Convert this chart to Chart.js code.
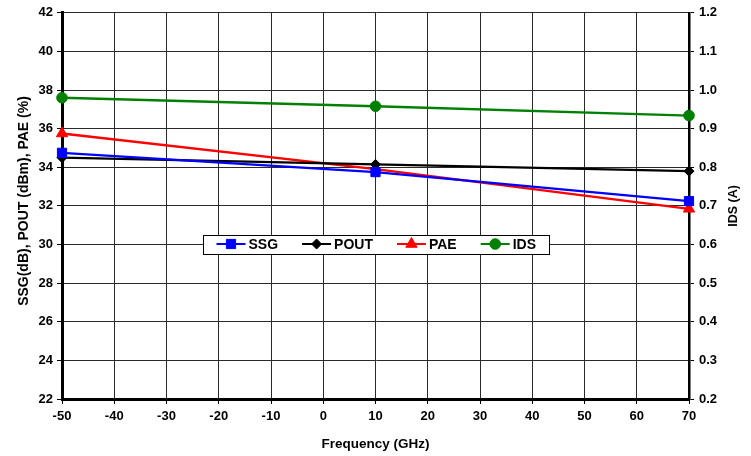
<!DOCTYPE html>
<html>
<head>
<meta charset="utf-8">
<script src="https://cdn.jsdelivr.net/npm/chart.js@4/dist/chart.umd.min.js"></script>
<style>
  html, body { margin: 0; padding: 0; background: #fff; }
  #wrap { width: 751px; height: 456px; }
</style>
</head>
<body>
<div id="wrap"><canvas id="grafico" width="751" height="456"></canvas></div>
<script>
const frequencias = [-50, 10, 70];
const ssg = [34.75, 33.75, 32.25];
const pout = [34.5, 34.15, 33.8];
const pae = [35.75, 33.9, 31.85];
const ids = [0.98, 0.958, 0.934];

const tituloEsq = 'SSG(dB), POUT (dBm), PAE (%)';
const tituloDir = 'IDS (A)';
const tituloX = 'Frequency (GHz)';

const fonte = 'Liberation Sans, Arial, sans-serif';

function pontos(valores) {
    return frequencias.map((f, i) => ({ x: f, y: valores[i] }));
}

function serie(label, valores, cor, estilo, raio, eixo) {
    return {
        label: label,
        data: pontos(valores),
        borderColor: cor,
        backgroundColor: cor,
        borderWidth: 2.3,
        pointStyle: estilo,
        pointRadius: raio,
        pointHoverRadius: raio,
        pointBorderWidth: 1,
        yAxisID: eixo,
        clip: false,
        tension: 0
    };
}

// títulos verticais e legenda desenhados à mão
const extras = {
    id: 'extras',
    afterDraw(chart) {
        const ctx = chart.ctx;
        const area = chart.chartArea;
        ctx.save();
        ctx.fillStyle = '#000';
        ctx.textAlign = 'center';
        ctx.textBaseline = 'middle';

        ctx.font = 'bold 14px ' + fonte;
        ctx.save();
        ctx.translate(24, 201);
        ctx.rotate(-Math.PI / 2);
        ctx.fillText(tituloEsq, 0, 0);
        ctx.restore();

        ctx.font = 'bold 12.5px ' + fonte;
        ctx.save();
        ctx.translate(734, 206);
        ctx.rotate(-Math.PI / 2);
        ctx.fillText(tituloDir, 0, 0);
        ctx.restore();

        // legenda
        const cx = (area.left + area.right) / 2;
        const cy = 244;
        ctx.font = 'bold 14px ' + fonte;
        const amostra = 29, gap = 3, espaco = 24, pad = 13;
        const itens = chart.data.datasets.map(ds => ({ ds, w: ctx.measureText(ds.label).width }));
        let total = pad * 2;
        itens.forEach((it, i) => { total += amostra + gap + it.w + (i < itens.length - 1 ? espaco : 0); });
        total = Math.round(total);
        const h = 19;
        let x = Math.round(cx - total / 2) + 0.5;
        const y0 = Math.round(cy - h / 2) + 0.5;
        ctx.fillStyle = '#fff';
        ctx.fillRect(x, y0, total, h);
        ctx.strokeStyle = '#000';
        ctx.lineWidth = 1;
        ctx.strokeRect(x, y0, total, h);
        x += pad;
        itens.forEach(it => {
            const ds = it.ds;
            ctx.strokeStyle = ds.borderColor;
            ctx.fillStyle = ds.backgroundColor;
            ctx.lineWidth = 2;
            ctx.beginPath();
            ctx.moveTo(x, cy);
            ctx.lineTo(x + amostra, cy);
            ctx.stroke();
            ctx.lineWidth = 1;
            Chart.helpers.drawPoint(ctx, { pointStyle: ds.pointStyle, radius: ds.pointRadius, rotation: 0, borderWidth: 1 }, x + amostra / 2, cy);
            ctx.fillStyle = '#000';
            ctx.textAlign = 'left';
            ctx.fillText(ds.label, x + amostra + gap, cy + 1);
            x += amostra + gap + it.w + espaco;
        });
        ctx.restore();
    }
};

const ctx = document.getElementById('grafico').getContext('2d');
new Chart(ctx, {
    type: 'line',
    data: {
        datasets: [
            serie('SSG', ssg, '#0000ff', 'rect', 6.5, 'y'),
            serie('POUT', pout, '#000000', 'rectRot', 5, 'y'),
            serie('PAE', pae, '#ff0000', 'triangle', 6.5, 'y'),
            serie('IDS', ids, '#008000', 'circle', 5.3, 'y2')
        ]
    },
    options: {
        responsive: false,
        animation: false,
        layout: { padding: { top: 12, left: 0, right: 0, bottom: 0 } },
        plugins: {
            legend: { display: false },
            tooltip: { enabled: false }
        },
        scales: {
            x: {
                type: 'linear',
                min: -50,
                max: 70,
                ticks: { stepSize: 10, color: '#000', font: { family: fonte, size: 13, weight: 'bold' }, padding: 5 },
                grid: { color: '#2a2a2a', lineWidth: 1, tickLength: 5, tickColor: '#000' },
                border: { color: '#000', width: 3 },
                title: { display: true, text: tituloX, color: '#000', font: { family: fonte, size: 13.5, weight: 'bold' }, padding: { top: 3 } },
                afterFit(scale) { scale.height = 57; }
            },
            y: {
                position: 'left',
                min: 22,
                max: 42,
                ticks: { stepSize: 2, color: '#000', font: { family: fonte, size: 13, weight: 'bold' }, padding: 4 },
                grid: { color: '#2a2a2a', lineWidth: 1, tickLength: 5, tickColor: '#000' },
                border: { color: '#000', width: 3 },
                afterFit(scale) { scale.width = 62; }
            },
            y2: {
                position: 'right',
                min: 0.2,
                max: 1.2,
                ticks: {
                    stepSize: 0.1,
                    color: '#000',
                    font: { family: fonte, size: 13, weight: 'bold' },
                    padding: 5,
                    callback: v => v.toFixed(1)
                },
                grid: { drawOnChartArea: false, tickLength: 5, tickColor: '#000' },
                border: { color: '#000', width: 2.5 },
                afterFit(scale) { scale.width = 62; }
            }
        }
    },
    plugins: [extras]
});
</script>
</body>
</html>
